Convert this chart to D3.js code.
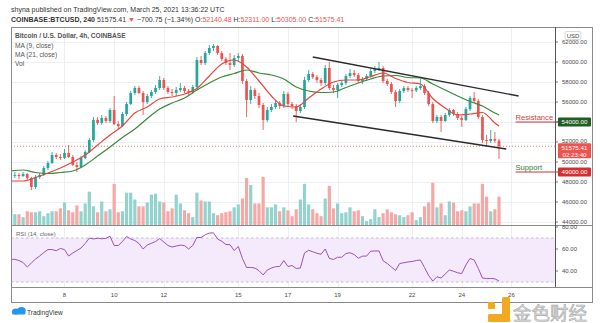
<!DOCTYPE html>
<html><head><meta charset="utf-8">
<script src="https://cdn.jsdelivr.net/npm/d3@7"></script>
<style>
body{margin:0;background:#fff;}
svg{display:block;font-family:"Liberation Sans",Arial,sans-serif;}
</style>
</head><body>
<svg id="c" width="600" height="323"></svg>
<script>
// ---------------- DATA ----------------
const barStart = "2021-03-05T20:00:00Z"; // first (partly hidden) 4h bar
const open = [48500,48700,48700,48600,48800,48400,47500,48500,48700,49400,
49900,50700,50500,50400,50900,50500,49700,49500,50400,51000,
52200,54200,53900,54400,54100,55200,53800,53600,54800,55800,
56900,57400,56900,56000,56600,57000,57400,58200,57400,57000,
56900,57200,57400,57100,57000,57500,60200,59900,60900,61400,
61600,60900,60300,59900,59700,60400,60600,58100,56200,57200,
56600,55700,54200,55200,55500,55900,55600,56800,55800,55600,
55100,55500,58200,58800,58500,58200,57900,59400,57400,57200,
57700,57900,58600,58900,58700,58100,58300,58600,59100,59300,
59400,58100,57800,57000,56100,57100,57400,57200,57150,57400,
57600,56900,55800,54100,54500,54100,54700,55200,54800,54400,
54200,55300,56400,56100,54500,52200,52100,52300,52140.48];
const high = [48900,49000,48900,49000,48900,48500,48700,48900,49600,50100,
51000,50900,50800,51300,51700,50700,50000,50600,51200,52400,
54500,54500,54700,54600,55400,56600,54100,55000,56000,57100,
57600,57600,57100,56800,57200,57700,58600,58400,57600,57300,
57500,57900,57600,57300,57700,60500,60600,61100,61700,61800,
61700,61100,60500,60900,60700,60900,60800,58300,57600,57400,
56900,55900,55500,55800,56200,56100,57100,57000,56000,55800,
55800,58500,59200,59000,58700,58400,59700,60000,57700,57900,
58100,58800,59300,59200,58900,58500,58800,59300,59600,60000,
59600,58300,58000,57200,57300,57600,57600,57400,57600,58300,
57800,57100,56000,54700,54700,54900,55400,55300,55000,54600,
55500,56600,57000,56300,54700,52700,53200,53000,52311];
const low = [48300,48400,48300,48500,48200,47200,47300,48300,48600,49200,
49800,50300,50200,50300,50400,49600,49000,49400,50300,50900,
52000,53700,53700,53900,53900,53700,53300,53500,54600,55700,
56700,56800,54700,55800,56400,56800,57200,57200,56800,56600,
56600,57000,56900,56700,56800,57300,59700,59700,60700,61100,
60700,60100,59700,59200,59500,60100,57800,54500,55800,56300,
55400,53200,54000,55000,55300,55300,55400,55600,55300,54000,
54900,55300,58000,58300,57900,57600,57700,57200,56900,56400,
57500,57700,58400,58500,57900,57800,58100,58400,58900,59100,
57900,57600,56800,55500,55900,56900,57000,56400,57000,57200,
56700,55600,53900,53900,53000,54000,54500,54600,54200,53500,
54100,55100,55900,54300,51900,51500,51900,51900,50305];
const close = [48700,48700,48600,48800,48400,47500,48500,48700,49400,49900,
50700,50500,50400,50900,50500,49700,49500,50400,51000,52200,
54200,53900,54400,54100,55200,53800,53600,54800,55800,56900,
57400,56900,56000,56600,57000,57400,58200,57400,57000,56900,
57200,57400,57100,57000,57500,60200,59900,60900,61400,61600,
60900,60300,59900,59700,60400,60600,58100,56200,57200,56600,
55700,54200,55200,55500,55900,55600,56800,55800,55600,55100,
55500,58200,58800,58500,58200,57900,59400,57400,57200,57700,
57900,58600,58900,58700,58100,58300,58600,59100,59300,59400,
58100,57800,57000,56100,57100,57400,57200,57150,57400,57600,
56900,55800,54100,54500,54100,54700,55200,54800,54400,54200,
55300,56400,56100,54500,52200,52100,52300,52140.48,51575.41];
const volume = [18,11,11,8,14,13,13,14,9,12,
14,14,17,23,15,13,20,14,22,34,
19,13,24,14,16,42,13,14,33,33,
26,19,19,23,31,32,24,23,14,17,
31,22,15,12,8,33,25,24,24,12,
10,12,13,14,18,21,27,48,41,22,
22,49,18,18,21,14,18,15,9,16,
26,42,21,16,12,9,27,40,17,22,
12,13,18,14,15,9,4,6,16,8,
12,16,13,11,10,8,10,13,5,8,
19,23,43,18,22,10,24,23,14,15,
14,19,22,22,42,29,14,16,29];
const rsi = [50.6,50.6,49.5,47.7,43.6,47.3,50.9,53.6,56.8,59.5,
59.5,58.5,60.5,59.5,53.6,56.4,58.6,60.9,65.0,70.0,
69.1,69.8,69.3,69.7,71.6,63.2,63.2,66.8,71.4,69.1,
67.7,65.0,60.0,63.6,65.2,66.8,69.5,66.4,63.2,61.8,
62.7,63.5,63.1,60.0,63.2,70.5,70.4,72.9,74.5,74.7,
69.1,67.0,64.1,63.9,58.6,62.3,51.4,43.2,43.2,42.7,
40.3,36.4,40.9,42.7,43.9,44.1,49.5,44.1,45.0,42.3,
42.7,56.4,58.8,57.5,56.1,55.2,60.0,51.4,50.5,52.5,
52.5,55.9,56.6,55.0,51.6,53.5,53.6,58.0,58.2,58.2,
49.3,46.8,43.6,40.5,46.8,47.5,48.2,48.6,49.5,50.0,
43.2,35.9,30.9,34.8,33.6,37.3,40.9,39.8,38.4,37.7,
45.5,51.4,50.0,42.3,33.6,33.1,33.2,32.9,30.9];
// moving averages at these bar indices
const maBars = [0,3,6,9,12,15,18,21,24,27,30,33,36,39,42,45,48,51,54,57,60,63,66,69,72,75,78,81,84,87,90,93,96,99,102,105,108,111,114,117,118];
const ma9 = [48100,48100,48450,48900,49400,50000,50700,51700,52700,53600,54900,55500,56300,56500,56800,57350,58600,59800,60200,59500,58100,56600,55600,55500,56400,57300,58000,58200,58200,58550,58900,58350,57950,57800,56350,55400,54700,54800,54950,53900,53600];
const ma21 = [49100,49200,48950,48850,48950,49100,49700,50600,51500,52450,53300,54350,55300,55900,56400,57200,57900,58500,58850,59200,58900,58700,58300,57500,57100,56950,57000,57450,57900,58300,58600,58650,58450,58400,57800,57200,56600,56050,55600,54900,54700];
const priceTicks = [62000,60000,58000,56000,54000,52000,50000,48000,46000,44000];
const rsiTicks = [80,60,40];
const rsiBand = [30,70];
const dayTicks = ["2021-03-08","2021-03-10","2021-03-12","2021-03-15","2021-03-17","2021-03-19","2021-03-22","2021-03-24","2021-03-26"];
const trendUpper = [["2021-03-18T00:00:00Z",60500],["2021-03-26T07:00:00Z",56600]];
const trendLower = [["2021-03-17T05:00:00Z",54600],["2021-03-25T19:00:00Z",51300]];
const levelNames = ["Resistance","Support"];
const levelPrices = [54000,49000];
const levelStart = "2021-03-26T04:00:00Z";
const lastPrice = 51575.41;
const countdown = "02:23:40";

// ---------------- LAYOUT ----------------
const L=11, R=555, AXR=592, T=27, SEP=225, XB=287, B=302;
const UP="#26a69a", DN="#ef5350";
const svg=d3.select("#c");
const t0=Date.parse(barStart), step=4*3600e3;
const dates=close.map((_,i)=>new Date(t0+i*step));
const x=d3.scaleUtc().domain([dates[0],dates[dates.length-1]]).range([10.7,499]);
const y=d3.scaleLinear().domain([44000,62000]).range([222,42]);
const yv=d3.scaleLinear().domain([0,50]).range([SEP,SEP-49]);
const yr=d3.scaleLinear().domain([30,70]).range([282,238]);

const defs=svg.append("defs");
defs.append("clipPath").attr("id","cm").append("rect").attr("x",L).attr("y",T).attr("width",R-L).attr("height",SEP-T);
defs.append("clipPath").attr("id","cr").append("rect").attr("x",L).attr("y",SEP).attr("width",R-L).attr("height",XB-SEP);

// grid
const grid=svg.append("g").attr("stroke","#eceff3").attr("stroke-width",1).attr("shape-rendering","crispEdges");
dayTicks.forEach(d=>{const xx=Math.round(x(new Date(d+"T00:00:00Z")))+0.5; if(xx<R) grid.append("line").attr("x1",xx).attr("x2",xx).attr("y1",T).attr("y2",XB);});
priceTicks.forEach(p=>{const yy=Math.round(y(p))+0.5; if(yy>T&&yy<SEP-2) grid.append("line").attr("x1",L).attr("x2",R).attr("y1",yy).attr("y2",yy);});
rsiTicks.forEach(v=>{const yy=Math.round(yr(v))+0.5; if(yy>SEP+3) grid.append("line").attr("x1",L).attr("x2",R).attr("y1",yy).attr("y2",yy);});

const main=svg.append("g").attr("clip-path","url(#cm)");
// volume
main.append("g").selectAll("rect").data(volume).join("rect")
  .attr("x",(d,i)=>x(dates[i])-1.6).attr("width",3.2)
  .attr("y",d=>yv(d)).attr("height",d=>SEP-yv(d))
  .attr("fill",(d,i)=>close[i]>=open[i]?"#93d3cd":"#f6a8a6");
// price line dotted
main.append("line").attr("x1",L).attr("x2",R).attr("y1",y(lastPrice)).attr("y2",y(lastPrice))
  .attr("stroke","#ef5350").attr("stroke-width",0.8).attr("stroke-dasharray","1,2");
// candles
const cg=main.append("g");
close.forEach((c,i)=>{
  const col=c>=open[i]?UP:DN, xx=x(dates[i]);
  cg.append("line").attr("x1",xx).attr("x2",xx).attr("y1",y(high[i])).attr("y2",y(low[i])).attr("stroke",col).attr("stroke-width",0.9);
  const y1=y(Math.max(open[i],c)), y2=y(Math.min(open[i],c));
  cg.append("rect").attr("x",xx-1.35).attr("width",2.7).attr("y",y1).attr("height",Math.max(0.8,y2-y1)).attr("fill",col);
});
// moving averages
const maLine=d3.line().x(d=>x(dates[d[0]])).y(d=>y(d[1])).curve(d3.curveMonotoneX);
main.append("path").attr("d",maLine(maBars.map((b,k)=>[b,ma21[k]]))).attr("fill","none").attr("stroke","#3a8a3a").attr("stroke-width",1.2);
main.append("path").attr("d",maLine(maBars.map((b,k)=>[b,ma9[k]]))).attr("fill","none").attr("stroke","#e8453c").attr("stroke-width",1.2);
// trend lines
[trendUpper,trendLower].forEach(tl=>{
  main.append("line").attr("x1",x(new Date(tl[0][0]))).attr("y1",y(tl[0][1]))
    .attr("x2",x(new Date(tl[1][0]))).attr("y2",y(tl[1][1]))
    .attr("stroke","#2b2b2b").attr("stroke-width",1.4);
});
// levels
const lx=x(new Date(levelStart));
levelPrices.forEach((p,k)=>{
  svg.append("line").attr("x1",lx).attr("x2",R+3).attr("y1",y(p)).attr("y2",y(p)).attr("stroke","#c93535").attr("stroke-width",1);
  svg.append("text").attr("x",lx).attr("y",y(p)-2).attr("font-size",7.6)
    .attr("fill",k===0?"#d23c3c":"#2e7d32").text(levelNames[k]);
});

// RSI pane
const rp=svg.append("g").attr("clip-path","url(#cr)");
rp.append("rect").attr("x",L).attr("width",R-L).attr("y",yr(rsiBand[1])).attr("height",yr(rsiBand[0])-yr(rsiBand[1])).attr("fill","#f4eafc");
rsiBand.forEach(v=>rp.append("line").attr("x1",L).attr("x2",R).attr("y1",yr(v)).attr("y2",yr(v)).attr("stroke","#b9b0c4").attr("stroke-width",0.8).attr("stroke-dasharray","2.5,2.5"));
rp.append("path").attr("d",d3.line().x((d,i)=>x(dates[i])).y(d=>yr(d))(rsi)).attr("fill","none").attr("stroke","#9c4fc0").attr("stroke-width",1);

// frames
const fr=svg.append("g").attr("stroke","#8a8a8a").attr("stroke-width",1).attr("shape-rendering","crispEdges").attr("fill","none");
fr.append("rect").attr("x",L+0.5).attr("y",T+0.5).attr("width",AXR-L).attr("height",B-T);
fr.append("line").attr("x1",L).attr("x2",AXR).attr("y1",SEP+0.5).attr("y2",SEP+0.5);
fr.append("line").attr("x1",L).attr("x2",AXR).attr("y1",XB+0.5).attr("y2",XB+0.5);
fr.append("line").attr("x1",R+0.5).attr("x2",R+0.5).attr("y1",T).attr("y2",XB).attr("stroke","#555");

// price axis
const pa=svg.append("g").attr("font-size",6).attr("fill","#4a4a4a");
priceTicks.forEach(p=>{
  const yy=y(p);
  svg.append("line").attr("x1",R).attr("x2",R+3).attr("y1",yy).attr("y2",yy).attr("stroke","#555").attr("stroke-width",0.8);
  if(levelPrices.includes(p)) return; // covered by the level tag
  pa.append("text").attr("x",562).attr("y",yy+(p===52000?1.2:2.2)).text(d3.format(".2f")(p));
});
rsiTicks.forEach(v=>{
  const yy=yr(v);
  svg.append("line").attr("x1",R).attr("x2",R+3).attr("y1",yy).attr("y2",yy).attr("stroke","#555").attr("stroke-width",0.8);
  pa.append("text").attr("x",562).attr("y",yy+2.2).text(d3.format(".2f")(v));
});
// USD box
svg.append("rect").attr("x",565).attr("y",31.5).attr("width",16).attr("height",8).attr("rx",1.5).attr("fill","#fff").attr("stroke","#c8c8c8").attr("stroke-width",0.7);
svg.append("text").attr("x",573).attr("y",38).attr("text-anchor","middle").attr("font-size",6).attr("fill","#444").text("USD");

// x axis
const xa=svg.append("g").attr("font-size",6).attr("fill","#4a4a4a").attr("text-anchor","middle");
dayTicks.forEach(d=>{const dt=new Date(d+"T00:00:00Z"); xa.append("text").attr("x",x(dt)).attr("y",297).text(dt.getUTCDate());});

// tags
function tag(p,bg,lines){
  const yy=y(p);
  const h=lines.length>1?15:9, top=lines.length>1?yy-3:yy-4.5;
  svg.append("rect").attr("x",558).attr("y",top).attr("width",33).attr("height",h).attr("rx",1).attr("fill",bg);
  lines.forEach((t,k)=>svg.append("text").attr("x",574.5).attr("y",top+6.6+k*6.8).attr("text-anchor","middle").attr("font-size",6.2).attr("fill","#fff").text(t));
}
tag(levelPrices[0],"#1f5e24",[d3.format(".2f")(levelPrices[0])]);
tag(lastPrice,"#ef5350",[d3.format(".2f")(lastPrice),countdown]);
tag(levelPrices[1],"#d32f2f",[d3.format(".2f")(levelPrices[1])]);

// header
svg.append("text").attr("x",11).attr("y",12).attr("font-size",7).attr("fill","#333").text("shyna published on TradingView.com, March 25, 2021 13:36:22 UTC");
const h2=svg.append("text").attr("x",11).attr("y",21.5).attr("font-size",7).attr("fill","#333");
h2.append("tspan").attr("font-weight","bold").text("COINBASE:BTCUSD, 240");
h2.append("tspan").text("  "+d3.format(".2f")(lastPrice)+" ");
h2.append("tspan").attr("fill","#ef5350").text("▼");
h2.append("tspan").text(" −700.75 (−1.34%) O:");
h2.append("tspan").attr("fill","#ef5350").text(d3.format(".2f")(open[open.length-1]));
h2.append("tspan").text(" H:");
h2.append("tspan").attr("fill","#ef5350").text(d3.format(".2f")(high[high.length-1]));
h2.append("tspan").text(" L:");
h2.append("tspan").attr("fill","#ef5350").text(d3.format(".2f")(low[low.length-1]));
h2.append("tspan").text(" C:");
h2.append("tspan").attr("fill","#ef5350").text(d3.format(".2f")(lastPrice));

// legend
const lg=svg.append("g").attr("font-size",6.6).attr("fill","#555");
lg.append("text").attr("x",15).attr("y",38).attr("font-weight","bold").text("Bitcoin / U.S. Dollar, 4h, COINBASE");
lg.append("text").attr("x",15).attr("y",47.5).text("MA (9, close)");
lg.append("text").attr("x",15).attr("y",56.5).text("MA (21, close)");
lg.append("text").attr("x",15).attr("y",65.5).text("Vol");
svg.append("text").attr("x",16).attr("y",236).attr("font-size",6).attr("fill","#666").text("RSI (14, close)");

// TradingView footer
const tv=svg.append("g").attr("fill","#2196f3");
tv.append("ellipse").attr("cx",16).attr("cy",311.5).attr("rx",4).attr("ry",3);
tv.append("ellipse").attr("cx",21.5).attr("cy",310.5).attr("rx",4.2).attr("ry",3.6);
tv.append("rect").attr("x",12).attr("y",311).attr("width",13.5).attr("height",3.5).attr("rx",1.5);
svg.append("text").attr("x",27).attr("y",314.5).attr("font-size",6.5).attr("fill","#333").text("TradingView");

// watermark
const wm=svg.append("g").attr("fill","#f2a91f");
wm.append("rect").attr("x",502).attr("y",297).attr("width",8).attr("height",25).attr("rx",1.5);
wm.append("rect").attr("x",488).attr("y",314).attr("width",22).attr("height",8).attr("rx",1.5);
wm.append("rect").attr("x",488).attr("y",302).attr("width",7).attr("height",7).attr("rx",1);
svg.append("text").attr("x",513).attr("y",319.5).attr("font-size",18.5)
  .attr("font-family","'Noto Sans CJK SC',sans-serif").attr("fill","#dcdcdc").attr("stroke","#a8a8a8").attr("stroke-width",0.6)
  .text("金色财经");
</script>
</body></html>
